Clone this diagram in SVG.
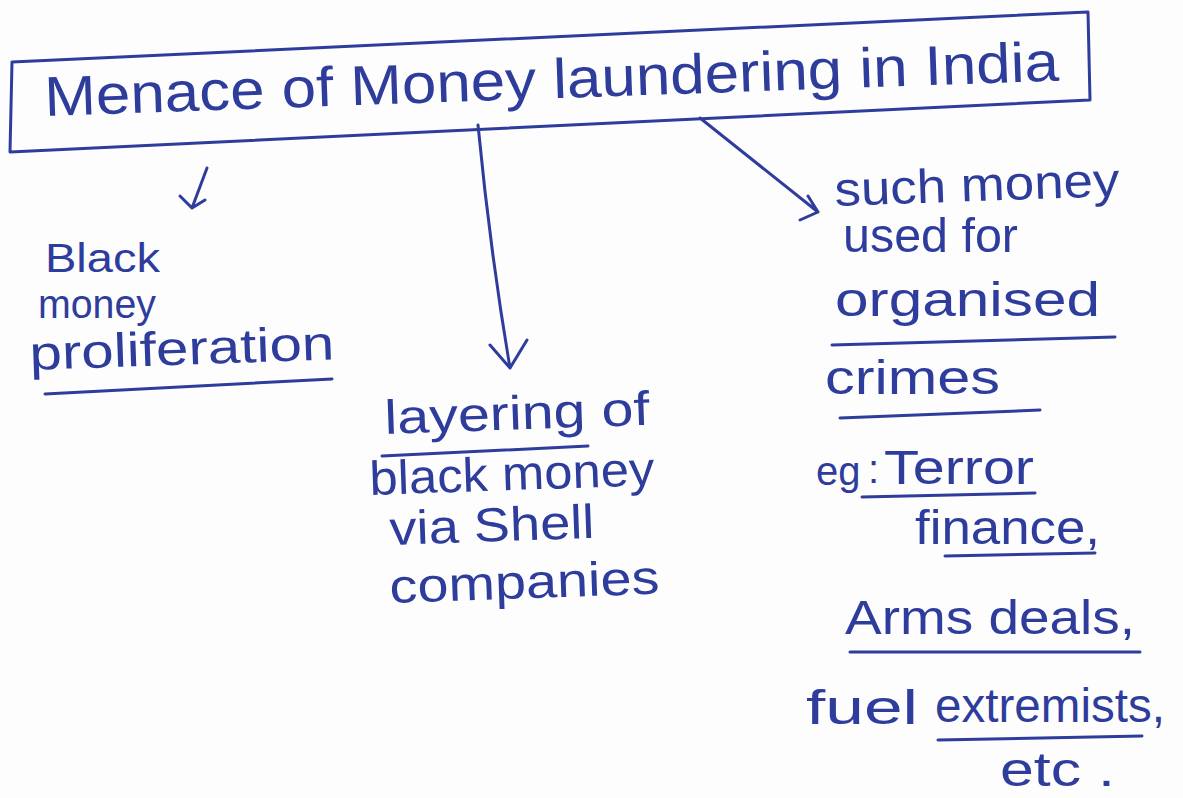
<svg xmlns="http://www.w3.org/2000/svg" width="1183" height="798" viewBox="0 0 1183 798">
  <style>
    .ink { fill: #2e3c9c; font-family: "Liberation Sans", "DejaVu Sans", sans-serif; }
    .lbl { font-size: 48px; }
    .sm { font-size: 40px; }
    .title { font-size: 56px; }
    .line { stroke: #2e3c9c; stroke-width: 3; fill: none; stroke-linecap: round; stroke-linejoin: round; }
  </style>
  <rect width="1183" height="798" fill="#fdfdfe"/>

  <!-- heading box -->
  <g id="title">
    <path class="line" d="M12 62 L1088 12 M12 62 L10 152 M10 152 L1090 100 M1088 12 L1090 100"/>
    <text class="ink title" x="45" y="116" textLength="1015" lengthAdjust="spacingAndGlyphs" transform="rotate(-2 45 116)">Menace of Money laundering in India</text>
  </g>

  <!-- arrows from the heading -->
  <g id="connectors">
    <path class="line" d="M207 168 L192 208 M180 196 L192 208 L205 200"/>
    <path class="line" d="M478 125 Q490 250 510 368 M490 345 L510 368 L527 340"/>
    <path class="line" d="M700 118 L818 212 M800 220 L818 212 L808 196"/>
  </g>

  <g id="black-money">
    <text class="ink sm" x="45" y="272" textLength="115" lengthAdjust="spacingAndGlyphs">Black</text>
    <text class="ink sm" x="38" y="318" textLength="118" lengthAdjust="spacingAndGlyphs">money</text>
    <text class="ink lbl" x="30" y="370" textLength="305" lengthAdjust="spacingAndGlyphs" transform="rotate(-2 30 370)">proliferation</text>
    <path class="line" d="M45 394 L332 379"/>
  </g>

  <g id="layering">
    <text class="ink lbl" x="385" y="434" textLength="265" lengthAdjust="spacingAndGlyphs" transform="rotate(-2 385 434)">layering of</text>
    <path class="line" d="M382 456 L588 446"/>
    <text class="ink lbl" x="370" y="495" textLength="285" lengthAdjust="spacingAndGlyphs" transform="rotate(-2 370 495)">black money</text>
    <text class="ink lbl" x="390" y="545" textLength="205" lengthAdjust="spacingAndGlyphs" transform="rotate(-2 390 545)">via Shell</text>
    <text class="ink lbl" x="390" y="603" textLength="270" lengthAdjust="spacingAndGlyphs" transform="rotate(-2 390 603)">companies</text>
  </g>

  <g id="organised-crime">
    <text class="ink lbl" x="835" y="206" textLength="285" lengthAdjust="spacingAndGlyphs" transform="rotate(-2 835 206)">such money</text>
    <text class="ink lbl" x="843" y="252" textLength="175" lengthAdjust="spacingAndGlyphs">used for</text>
    <text class="ink lbl" x="835" y="316" textLength="265" lengthAdjust="spacingAndGlyphs">organised</text>
    <path class="line" d="M832 345 L1115 337"/>
    <text class="ink lbl" x="825" y="394" textLength="175" lengthAdjust="spacingAndGlyphs">crimes</text>
    <path class="line" d="M840 418 L1040 410"/>
  </g>

  <g id="examples">
    <text class="ink sm" x="816" y="485">eg</text>
    <text class="ink sm" x="868" y="483">:</text>
    <text class="ink lbl" x="884" y="484" textLength="150" lengthAdjust="spacingAndGlyphs">Terror</text>
    <path class="line" d="M862 497 L1035 493"/>
    <text class="ink lbl" x="915" y="544" textLength="185" lengthAdjust="spacingAndGlyphs">finance,</text>
    <path class="line" d="M945 556 L1095 553"/>
    <text class="ink lbl" x="845" y="634" textLength="290" lengthAdjust="spacingAndGlyphs">Arms deals,</text>
    <path class="line" d="M850 652 L1140 652"/>
    <text class="ink lbl" x="806" y="724" textLength="112" lengthAdjust="spacingAndGlyphs">fuel</text>
    <text class="ink lbl" x="935" y="722" textLength="230" lengthAdjust="spacingAndGlyphs">extremists,</text>
    <path class="line" d="M938 740 L1142 736"/>
    <text class="ink lbl" x="1000" y="786" textLength="115" lengthAdjust="spacingAndGlyphs">etc .</text>
  </g>
</svg>
